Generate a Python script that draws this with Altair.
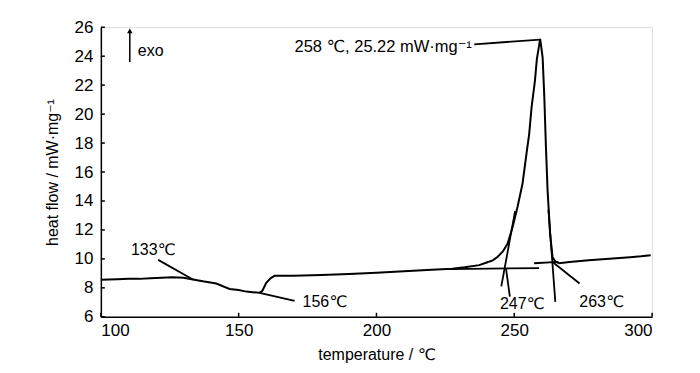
import altair as alt
import pandas as pd

# ---- main DSC curve (temperature in degC, heat flow in mW/mg) ----
curve_t = [100, 103, 106, 110, 114, 118, 122, 126, 130, 133.4, 137, 141.9, 146.7, 150, 152.8, 155, 157.6,
           158.6, 160, 161.5, 163, 170, 180, 190, 200, 210, 220, 227.5, 232, 237.3, 240, 242.2, 244,
           245.8, 247.6, 249.4, 251.2, 253.0, 254.6, 255.4, 256.3, 257.5, 258.2, 259.4,
           260.3, 260.9, 261.5, 262.1, 263.0, 263.9, 265.0, 266.3, 270, 274, 277,
           282, 287, 292, 296, 299.5]
curve_y = [8.56, 8.58, 8.6, 8.62, 8.62, 8.66, 8.7, 8.74, 8.7, 8.58, 8.45, 8.3, 7.92, 7.85, 7.74, 7.7, 7.66,
           7.8, 8.35, 8.65, 8.83, 8.84, 8.88, 8.95, 9.05, 9.15, 9.25, 9.32, 9.42, 9.57, 9.75, 9.9, 10.15,
           10.5, 11.06, 12.2, 13.6, 15.2, 17.5, 18.6, 20.5, 22.3, 23.8, 25.2,
           23.9, 21.2, 17.7, 14.7, 11.75, 10.1, 9.8, 9.7, 9.78, 9.86, 9.9,
           9.98, 10.05, 10.12, 10.18, 10.25]

# ---- construction / leader lines (x1, y1, x2, y2) ----
seg_x1 = [120.8, 157.6, 226.0, 245.3, 247.0, 257.2, 262.4, 263.9, 235.5]
seg_y1 = [9.93, 7.66, 9.30, 8.10, 9.34, 9.70, 13.4, 9.78, 24.82]
seg_x2 = [133.4, 170.3, 259.0, 250.3, 248.4, 266.0, 264.9, 273.7, 259.4]
seg_y2 = [8.58, 7.10, 9.36, 13.3, 7.40, 9.80, 7.03, 8.30, 25.15]

# ---- annotations ----
lab_text = ["133\u2103", "156\u2103", "247\u2103", "263\u2103", "exo"]
lab_t = [110.9, 173.2, 244.8, 273.6, 113.4]
lab_y = [10.27, 6.70, 6.53, 6.67, 23.98]

peak_text = ["258 \u2103, 25.22 mW\u00b7mg\u207b\u00b9"]
peak_t = [234.6]
peak_y = [24.26]

arrow_t = [110.5]
arrow_y1 = [23.6]
arrow_y2 = [25.75]

x_ticks = [100, 150, 200, 250, 300]
y_ticks = [6, 8, 10, 12, 14, 16, 18, 20, 22, 24, 26]

FONT = "Liberation Sans, Arial, DejaVu Sans"
W, H = 552, 290

curve = pd.DataFrame({"t": curve_t, "y": curve_y, "o": list(range(len(curve_t)))})
segs = pd.DataFrame({"x1": seg_x1, "y1": seg_y1, "x2": seg_x2, "y2": seg_y2})
labs = pd.DataFrame({"t": lab_t, "y": lab_y, "s": lab_text})
peak = pd.DataFrame({"t": peak_t, "y": peak_y, "s": peak_text})
arrow = pd.DataFrame({"t": arrow_t, "y1": arrow_y1, "y2": arrow_y2})
xt = pd.DataFrame({"v": x_ticks})
yt = pd.DataFrame({"v": y_ticks})

xs = alt.Scale(domain=[100, 300], nice=False, zero=False)
ys = alt.Scale(domain=[6, 26], nice=False, zero=False)

xaxis = alt.Axis(values=x_ticks, title="temperature / \u2103", grid=False, ticks=False,
                 domainColor="black", domainWidth=1.5, labelColor="black", labelFontSize=17,
                 labelFont=FONT, titleFont=FONT, titleFontSize=16, titleFontWeight="normal",
                 titleColor="black", labelPadding=6, titlePadding=8, labelOverlap=False)
yaxis = alt.Axis(values=y_ticks, title="heat flow / mW\u00b7mg\u207b\u00b9", grid=False, ticks=False,
                 domainColor="black", domainWidth=1.5, labelColor="black", labelFontSize=17,
                 labelFont=FONT, titleFont=FONT, titleFontSize=16, titleFontWeight="normal",
                 titleColor="black", labelPadding=8, titlePadding=14, labelOverlap=False)


def X(f):
    return alt.X(f, scale=xs, axis=xaxis)


def Y(f):
    return alt.Y(f, scale=ys, axis=yaxis)


line = alt.Chart(curve).mark_line(color="black", strokeWidth=2, strokeJoin="miter").encode(
    x=X("t:Q"), y=Y("y:Q"), order="o:Q",
)

rules = alt.Chart(segs).mark_rule(color="black", strokeWidth=1.8).encode(
    x=X("x1:Q"), y=Y("y1:Q"), x2="x2:Q", y2="y2:Q",
)

texts = alt.Chart(labs).mark_text(align="left", baseline="alphabetic", font=FONT,
                                  fontSize=16, color="black").encode(
    x=X("t:Q"), y=Y("y:Q"), text="s:N"
)

ptext = alt.Chart(peak).mark_text(align="right", baseline="alphabetic", font=FONT,
                                  fontSize=16.5, color="black").encode(
    x=X("t:Q"), y=Y("y:Q"), text="s:N"
)

arr = alt.Chart(arrow).mark_rule(color="black", strokeWidth=1.5).encode(
    x=X("t:Q"), y=Y("y1:Q"), y2="y2:Q"
)
head = alt.Chart(arrow).mark_point(shape="triangle-up", filled=True, color="black",
                                   size=30, opacity=1).encode(
    x=X("t:Q"), y=Y("y2:Q")
)

xtick = alt.Chart(xt).mark_rule(color="black", strokeWidth=1.5).encode(
    x=X("v:Q"), y=alt.value(H), y2=alt.value(H - 4)
)
ytick = alt.Chart(yt).mark_rule(color="black", strokeWidth=1.5).encode(
    y=Y("v:Q"), x=alt.value(0), x2=alt.value(4)
)

chart = alt.layer(line, rules, texts, ptext, arr, head, xtick, ytick).properties(
    width=W, height=H,
    autosize=alt.AutoSizeParams(type="none"),
    padding={"left": 93, "top": 19, "right": 40, "bottom": 46},
).configure_view(stroke=None).configure_axis(labelOverlap=False).configure(background="white")

chart.save("out.html", embed_options={"renderer": "svg", "actions": False})
